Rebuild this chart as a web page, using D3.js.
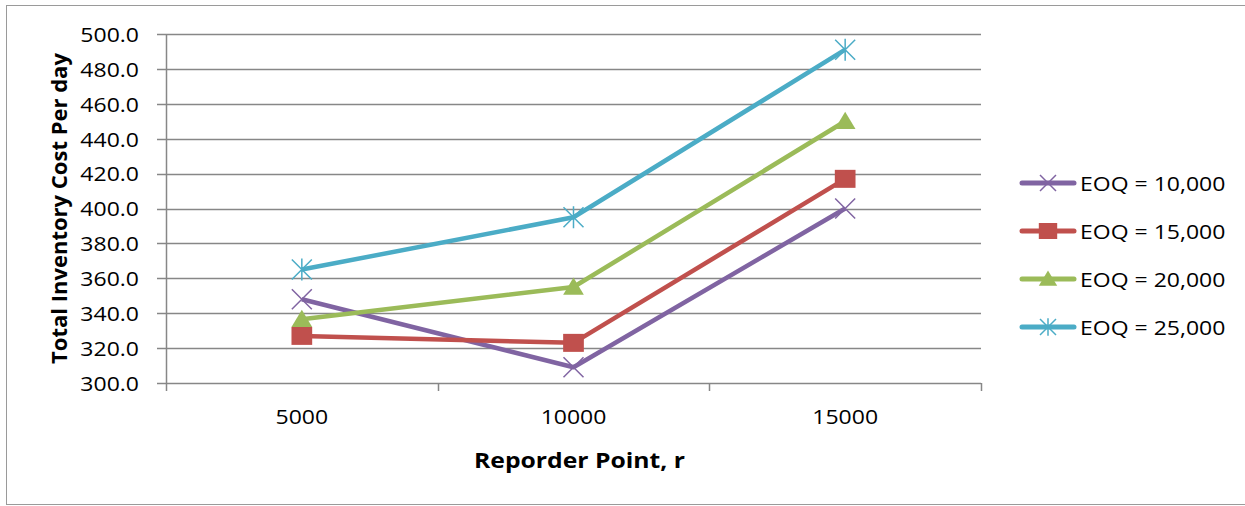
<!DOCTYPE html>
<html>
<head>
<meta charset="utf-8">
<script src="https://cdn.jsdelivr.net/npm/d3@7"></script>
<style>
  body { margin: 0; background: #fff; }
  text { font-family: "Open Sans", sans-serif; fill: #000; }
</style>
</head>
<body>
<div id="chart"></div>
<script>
// data
const reorderPoints = ["5000", "10000", "15000"];
const seriesNames = ["EOQ = 10,000", "EOQ = 15,000", "EOQ = 20,000", "EOQ = 25,000"];
const eoq10000 = [348, 309, 400];
const eoq15000 = [327, 323, 417];
const eoq20000 = [336.5, 355, 450];
const eoq25000 = [365, 395, 491];
const yTicks = [300, 320, 340, 360, 380, 400, 420, 440, 460, 480, 500];

const seriesValues = [eoq10000, eoq15000, eoq20000, eoq25000];
const colors = ["#8064A2", "#C0504D", "#9BBB59", "#4BACC6"];
const markers = ["x", "square", "triangle", "star"];

const W = 1245, H = 506;
const sx = 1.15; // the picture is stretched horizontally
const margin = { top: 34, left: 166, right: 264, bottom: 123 };
const width = W - margin.left - margin.right,
      height = H - margin.top - margin.bottom;

const svg = d3.select("#chart")
    .append("svg")
    .attr("width", W)
    .attr("height", H);

// outer border
svg.append("rect")
    .attr("x", 6.5).attr("y", 5.5)
    .attr("width", W - 6).attr("height", 499)
    .attr("fill", "none")
    .attr("stroke", "#9a9a9a")
    .attr("stroke-width", 1);

const g = svg.append("g")
    .attr("transform", `translate(${margin.left},${margin.top})`);

const x = d3.scaleBand()
    .domain(reorderPoints)
    .range([0, width]);
const y = d3.scaleLinear()
    .domain([300, 500])
    .range([height, 0]);

function stretchedText(sel, tx, ty, str) {
    return sel.append("text")
        .attr("transform", `translate(${tx},${ty}) scale(${sx},1)`)
        .text(str);
}

// gridlines + y ticks
g.selectAll(".grid")
    .data(yTicks)
    .join("line")
    .attr("x1", -9)
    .attr("x2", width)
    .attr("y1", d => Math.round(y(d)) + 0.5)
    .attr("y2", d => Math.round(y(d)) + 0.5)
    .attr("stroke", "#878787")
    .attr("stroke-width", 1.5);

yTicks.forEach(v => {
    stretchedText(g, -27, y(v), d3.format(".1f")(v))
        .attr("text-anchor", "end")
        .attr("dominant-baseline", "central")
        .style("font-size", "20px");
});

// y axis line
g.append("line")
    .attr("x1", 0.5).attr("x2", 0.5)
    .attr("y1", 0).attr("y2", height)
    .attr("stroke", "#878787")
    .attr("stroke-width", 1.5);

// x axis ticks at category edges
const edges = reorderPoints.map(d => x(d)).concat([width]);
g.selectAll(".xtick")
    .data(edges)
    .join("line")
    .attr("x1", d => Math.round(d) + 0.5)
    .attr("x2", d => Math.round(d) + 0.5)
    .attr("y1", height)
    .attr("y2", height + 8)
    .attr("stroke", "#878787")
    .attr("stroke-width", 1.5);

reorderPoints.forEach(c => {
    stretchedText(g, x(c) + x.bandwidth() / 2, height + 33, c)
        .attr("text-anchor", "middle")
        .attr("dominant-baseline", "central")
        .style("font-size", "20px");
});

// axis titles
stretchedText(svg, margin.left + x("10000") + x.bandwidth() / 2 + 6, 460, "Reporder Point, r")
    .attr("text-anchor", "middle")
    .attr("dominant-baseline", "central")
    .style("font-size", "21.5px")
    .style("font-weight", "bold");

svg.append("text")
    .attr("transform", `translate(58,${margin.top + height / 2}) rotate(-90)`)
    .attr("text-anchor", "middle")
    .attr("dominant-baseline", "central")
    .style("font-size", "22px")
    .style("font-weight", "bold")
    .text("Total Inventory Cost Per day");

// marker drawing
function drawMarker(sel, type, color, s) {
    const h = s / 2;
    if (type === "square") {
        sel.append("rect")
            .attr("x", -h * 1.15).attr("y", -h)
            .attr("width", s * 1.15).attr("height", s)
            .attr("fill", color);
    } else if (type === "triangle") {
        sel.append("path")
            .attr("d", `M0,${-h * 1.05} L${h * 1.15},${h * 0.85} L${-h * 1.15},${h * 0.85} Z`)
            .attr("fill", color);
    } else {
        const p = `M${-h},${-h} L${h},${h} M${-h},${h} L${h},${-h}` +
            (type === "star" ? ` M0,${-h * 1.1} L0,${h * 1.1}` : "");
        sel.append("path")
            .attr("d", p)
            .attr("fill", "none")
            .attr("stroke", color)
            .attr("stroke-width", 1.5);
    }
}

const line = d3.line()
    .x((d, i) => x(reorderPoints[i]) + x.bandwidth() / 2)
    .y(d => y(d));

seriesValues.forEach((vals, k) => {
    g.append("path")
        .datum(vals)
        .attr("d", line)
        .attr("fill", "none")
        .attr("stroke", colors[k])
        .attr("stroke-width", 4.5)
        .attr("stroke-linejoin", "round");
    vals.forEach((v, i) => {
        const m = g.append("g")
            .attr("transform", `translate(${x(reorderPoints[i]) + x.bandwidth() / 2},${y(v)})`);
        drawMarker(m, markers[k], colors[k], markers[k] === "square" || markers[k] === "triangle" ? 18 : 20);
    });
});

// legend
const lx = 1020, ly = 183, lstep = 48;
seriesNames.forEach((name, k) => {
    const row = svg.append("g")
        .attr("transform", `translate(${lx},${ly + k * lstep})`);
    row.append("line")
        .attr("x1", 2).attr("x2", 54)
        .attr("y1", 0).attr("y2", 0)
        .attr("stroke", colors[k])
        .attr("stroke-width", 5)
        .attr("stroke-linecap", "round");
    const m = row.append("g").attr("transform", "translate(28,0)");
    drawMarker(m, markers[k], colors[k], 16);
    stretchedText(row, 60, 0, name)
        .attr("dominant-baseline", "central")
        .style("font-size", "20px");
});
</script>
</body>
</html>
